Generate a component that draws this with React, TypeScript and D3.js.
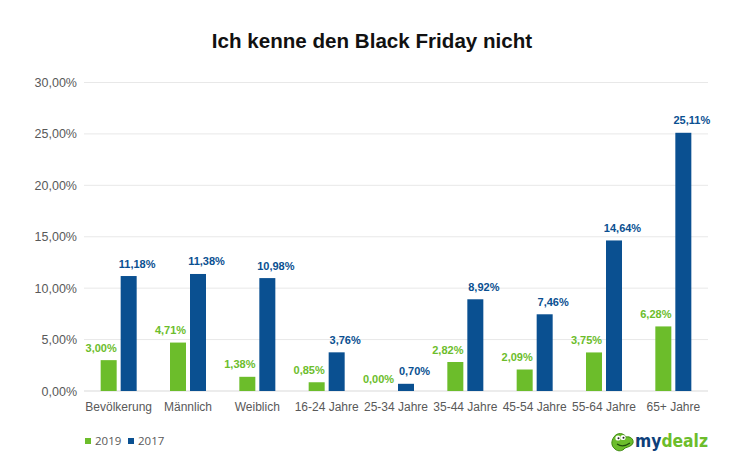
import React, { useEffect, useRef } from "react";
import * as d3 from "d3";

const categories = [
  "Bevölkerung",
  "Männlich",
  "Weiblich",
  "16-24 Jahre",
  "25-34 Jahre",
  "35-44 Jahre",
  "45-54 Jahre",
  "55-64 Jahre",
  "65+ Jahre",
];
const series = ["2019", "2017"];
const values2019 = [3.0, 4.71, 1.38, 0.85, 0.0, 2.82, 2.09, 3.75, 6.28];
const values2017 = [11.18, 11.38, 10.98, 3.76, 0.7, 8.92, 7.46, 14.64, 25.11];
const yTicks = [0, 5, 10, 15, 20, 25, 30];

const colors: Record<string, string> = { "2019": "#6cbd2b", "2017": "#0a5091" };
// value labels sit a little outwards of their bars
const labelShift: Record<string, number> = { "2019": -7.5, "2017": 8.5 };

const fmt = (v: number) => v.toFixed(2).replace(".", ",") + "%";

const App: React.FC = () => {
  const svgRef = useRef<SVGSVGElement | null>(null);
  const width = 745;
  const height = 473;

  useEffect(() => {
    const svg = d3.select(svgRef.current);
    svg.selectAll("*").remove();

    const font = "'Liberation Sans', Arial, Helvetica, sans-serif";
    const margin = { top: 82.5, right: 37, bottom: 82, left: 84 };
    const innerWidth = width - margin.left - margin.right;
    const innerHeight = 391 - margin.top;

    const data = categories.map((c, i) => ({
      category: c,
      "2019": values2019[i],
      "2017": values2017[i],
    }));

    const x0 = d3.scaleBand().domain(categories).range([0, innerWidth]);
    const x1 = d3
      .scaleBand()
      .domain(series)
      .range([0, 36])
      .paddingInner(0.2);
    const y = d3.scaleLinear().domain([0, 30]).range([innerHeight, 0]);

    // title
    svg
      .append("text")
      .attr("x", 372)
      .attr("y", 47.5)
      .attr("text-anchor", "middle")
      .attr("font-family", font)
      .attr("font-weight", "bold")
      .attr("font-size", 20.6)
      .attr("fill", "#111")
      .text("Ich kenne den Black Friday nicht");

    const chart = svg
      .append("g")
      .attr("transform", `translate(${margin.left},${margin.top})`);

    // grid + y labels
    chart
      .selectAll("line.grid")
      .data(yTicks)
      .join("line")
      .attr("class", "grid")
      .attr("x1", 0)
      .attr("x2", innerWidth)
      .attr("y1", d => y(d))
      .attr("y2", d => y(d))
      .attr("stroke", d => (d === 0 ? "#d9d9d9" : "#e8e8e8"))
      .attr("stroke-width", 1);

    chart
      .selectAll("text.ytick")
      .data(yTicks)
      .join("text")
      .attr("class", "ytick")
      .attr("x", -7)
      .attr("y", d => y(d) + 4.5)
      .attr("text-anchor", "end")
      .attr("font-family", font)
      .attr("font-size", 12.5)
      .attr("fill", "#595959")
      .text(d => fmt(d));

    // bars
    const groups = chart
      .selectAll("g.group")
      .data(data)
      .join("g")
      .attr("class", "group")
      .attr(
        "transform",
        d => `translate(${(x0(d.category) || 0) + x0.bandwidth() / 2 - 18},0)`
      );

    series.forEach(s => {
      groups
        .append("rect")
        .attr("x", x1(s) || 0)
        .attr("y", d => y(d[s as "2019"]))
        .attr("width", x1.bandwidth())
        .attr("height", d => innerHeight - y(d[s as "2019"]))
        .attr("fill", colors[s]);

      groups
        .append("text")
        .attr("x", (x1(s) || 0) + x1.bandwidth() / 2 + labelShift[s])
        .attr("y", d => y(d[s as "2019"]) - 8.5)
        .attr("text-anchor", "middle")
        .attr("font-family", font)
        .attr("font-weight", "bold")
        .attr("font-size", 11)
        .attr("fill", colors[s])
        .text(d => fmt(d[s as "2019"]));
    });

    // x labels
    chart
      .selectAll("text.xtick")
      .data(categories)
      .join("text")
      .attr("class", "xtick")
      .attr("x", d => (x0(d) || 0) + x0.bandwidth() / 2)
      .attr("y", innerHeight + 19.5)
      .attr("text-anchor", "middle")
      .attr("font-family", font)
      .attr("font-size", 12)
      .attr("fill", "#595959")
      .text(d => d);

    // legend
    const legend = svg.append("g").attr("transform", "translate(85,438)");
    series.forEach((s, i) => {
      const g = legend.append("g").attr("transform", `translate(${i * 43},0)`);
      g.append("rect").attr("width", 6).attr("height", 6).attr("fill", colors[s]);
      g.append("text")
        .attr("x", 10)
        .attr("y", 6.5)
        .attr("font-family", "'Open Sans', 'Liberation Sans', sans-serif")
        .attr("font-size", 11.5)
        .attr("fill", "#595959")
        .text(s);
    });

    // logo
    const logo = svg.append("g").attr("transform", "translate(611,433)");
    logo
      .append("path")
      .attr(
        "d",
        "M3,4 C6,-1 13,0 15,4 C19,3 23,6 22,10 C21,13 17,14 14,15 C12,18 7,19 4,16 C0,13 0,8 3,4 Z"
      )
      .attr("fill", "#6cbd2b")
      .attr("stroke", "#3f8a12")
      .attr("stroke-width", 1);
    logo.append("circle").attr("cx", 7).attr("cy", 5).attr("r", 2.6).attr("fill", "#fff");
    logo.append("circle").attr("cx", 12).attr("cy", 4.5).attr("r", 2.6).attr("fill", "#fff");
    logo.append("circle").attr("cx", 7.5).attr("cy", 5.3).attr("r", 1).attr("fill", "#222");
    logo.append("circle").attr("cx", 12.5).attr("cy", 4.8).attr("r", 1).attr("fill", "#222");
    logo
      .append("path")
      .attr("d", "M6,11 Q12,15 19,10")
      .attr("fill", "none")
      .attr("stroke", "#1f4d0a")
      .attr("stroke-width", 1.2);

    const word = svg
      .append("text")
      .attr("x", 635)
      .attr("y", 447)
      .attr("font-family", "'DejaVu Sans', sans-serif")
      .attr("font-weight", "bold")
      .attr("font-size", 17)
      .attr("textLength", 73)
      .attr("lengthAdjust", "spacingAndGlyphs");
    word.append("tspan").attr("fill", "#0d3f7a").text("my");
    word.append("tspan").attr("fill", "#6cbd2b").text("dealz");
  }, []);

  return (
    <svg
      ref={svgRef}
      width={width}
      height={height}
      style={{ display: "block", margin: "-8px", background: "#fff" }}
    ></svg>
  );
};

export default App;
